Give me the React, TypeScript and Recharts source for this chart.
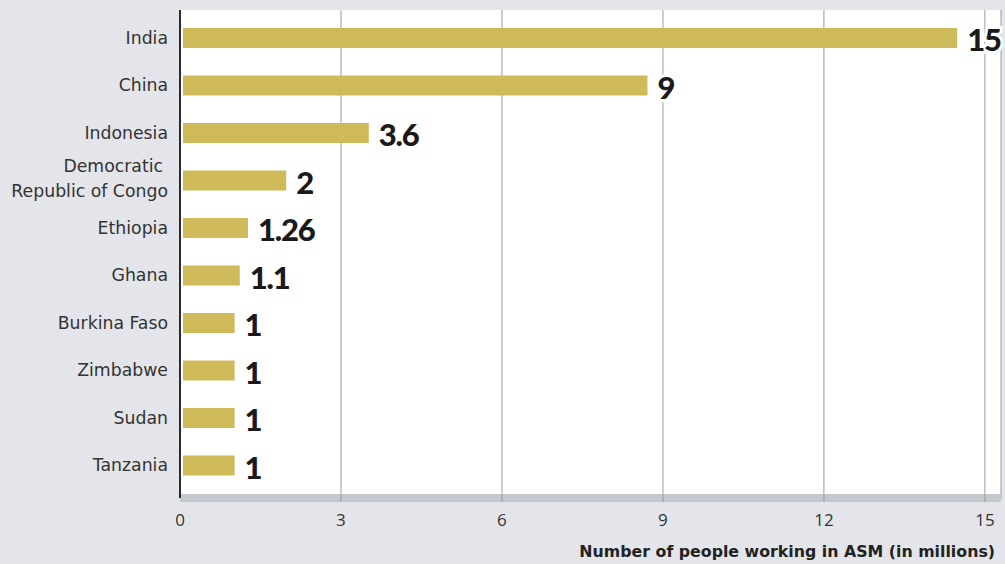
import React from 'react';
import { BarChart, Bar, XAxis, YAxis, CartesianGrid, LabelList } from 'recharts';

const countries = [
  'India',
  'China',
  'Indonesia',
  'Democratic Republic of Congo',
  'Ethiopia',
  'Ghana',
  'Burkina Faso',
  'Zimbabwe',
  'Sudan',
  'Tanzania',
];
const workers = [15, 9, 3.6, 2, 1.26, 1.1, 1, 1, 1, 1];
const xTicks = [0, 3, 6, 9, 12, 15];
const labelLines: Record<string, string[]> = {
  'Democratic Republic of Congo': ['Democratic', 'Republic of Congo'],
};
const axisTitle = 'Number of people working in ASM (in millions)';

const data = countries.map((c, i) => ({ country: c, value: workers[i] }));

const BG = '#e4e5ea';
const BAR = '#cfba5a';
const BAND = '#c5c9cf';
const GRID = '#9b9b9b';

const CountryTick = (props: any) => {
  const { x, y, payload } = props;
  const lines = labelLines[payload.value] || [payload.value];
  const font = { fontFamily: 'DejaVu Sans', fontSize: 17.3, fill: '#333' };
  if (lines.length === 1) {
    return (
      <text x={x} y={y} dy="0.36em" textAnchor="end" {...font}>
        {lines[0]}
      </text>
    );
  }
  return (
    <text x={x} y={y} textAnchor="end" {...font}>
      <tspan x={x - 5} y={y - 14} dy="0.36em">{lines[0]}</tspan>
      <tspan x={x} y={y + 11} dy="0.36em">{lines[1]}</tspan>
    </text>
  );
};

const ValueTick = (props: any) => {
  const { x, y, payload } = props;
  return (
    <g>
      {payload.value !== 0 && (
        <line x1={x} x2={x} y1={y - 4} y2={y + 4} stroke={GRID} strokeWidth={1} />
      )}
      <text x={x} y={y + 28} textAnchor="middle" fontFamily="Open Sans" fontSize={17} fill="#333">
        {payload.value}
      </text>
    </g>
  );
};

const BarValue = (props: any) => {
  const { x, y, width, height, value } = props;
  return (
    <text
      x={x + width + 10}
      y={y + height / 2 + 2}
      dy="0.36em"
      fontFamily="Lato"
      fontWeight={900}
      fontSize={31}
      letterSpacing={-1.2}
      fill="#1a1a1a"
      stroke="#fff"
      strokeWidth={6}
      paintOrder="stroke"
    >
      {value}
    </text>
  );
};

export default function App() {
  return (
    <div style={{ position: 'absolute', left: 0, top: 0, width: 1005, height: 564, background: BG }}>
      <BarChart
        width={1005}
        height={564}
        data={data}
        layout="vertical"
        margin={{ top: 10, right: 4, left: 0, bottom: 0 }}
        barCategoryGap={0}
      >
        <CartesianGrid horizontal={false} stroke={GRID} fill="#fff" />
        <XAxis
          type="number"
          domain={[0, 15.3]}
          allowDataOverflow
          ticks={xTicks}
          height={66}
          axisLine={{ stroke: BAND, strokeWidth: 8 }}
          tickLine={false}
          tickSize={0}
          tickMargin={0}
          tick={<ValueTick />}
          interval={0}
        />
        <XAxis
          xAxisId="b"
          type="number"
          orientation="top"
          height={0}
          domain={[0, 15.85]}
          allowDataOverflow
          hide
          padding={{ left: 3, right: 0 }}
        />
        <YAxis
          type="category"
          dataKey="country"
          width={180}
          tickSize={0}
          tickMargin={12}
          tickLine={false}
          axisLine={{ stroke: '#2b2b2b', strokeWidth: 2 }}
          padding={{ top: 4, bottom: 9 }}
          interval={0}
          tick={<CountryTick />}
        />
        <Bar xAxisId="b" dataKey="value" fill={BAR} barSize={20} isAnimationActive={false}>
          <LabelList dataKey="value" content={<BarValue />} />
        </Bar>
      </BarChart>
      <div
        style={{
          position: 'absolute',
          right: 10,
          top: 542,
          fontFamily: 'DejaVu Sans',
          fontWeight: 700,
          fontSize: 15.8,
          color: '#222',
          whiteSpace: 'nowrap',
          lineHeight: '20px',
        }}
      >
        {axisTitle}
      </div>
    </div>
  );
}
